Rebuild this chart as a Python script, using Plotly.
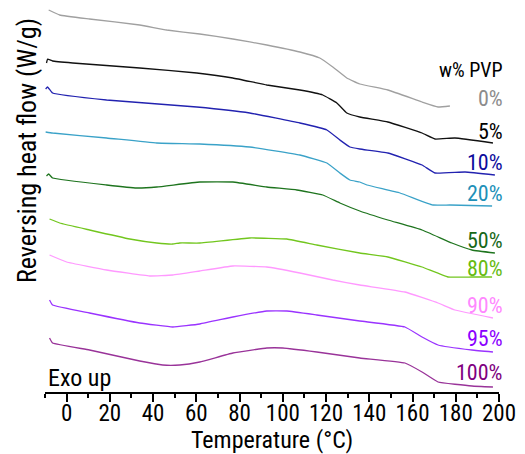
import plotly.graph_objects as go

# Temperature (°C) and reversing heat flow (offset, arbitrary W/g units)
t_0 = [-8.3, -3.2, 10.6, 33.8, 46.3, 61.6, 76.9, 92.6, 107.9, 117.1, 123.1, 129.6, 135.6, 148.6, 164.4, 171.8, 177.3]
h_0 = [3.82, 3.77, 3.73, 3.67, 3.62, 3.58, 3.53, 3.47, 3.40, 3.34, 3.25, 3.14, 3.08, 3.02, 2.90, 2.85, 2.86]

t_5 = [-9.3, -8.8, -6.5, 2.8, 33.8, 60.2, 76.9, 92.6, 107.9, 118.5, 125.0, 129.6, 135.6, 148.6, 164.4, 170.4, 179.6, 197.2]
h_5 = [3.29, 3.33, 3.31, 3.29, 3.24, 3.19, 3.14, 3.07, 3.02, 2.97, 2.89, 2.79, 2.75, 2.70, 2.59, 2.53, 2.54, 2.49]

t_10 = [-9.7, -8.8, -6.5, 18.5, 60.2, 84.7, 107.9, 120.4, 126.4, 131.0, 135.6, 148.6, 164.4, 170.4, 184.3, 198.1]
h_10 = [3.03, 3.05, 2.99, 2.92, 2.85, 2.79, 2.69, 2.62, 2.52, 2.45, 2.43, 2.39, 2.27, 2.19, 2.20, 2.17]

t_20 = [-9.7, -6.5, 18.5, 41.7, 61.6, 84.7, 107.9, 120.4, 126.4, 131.0, 135.6, 138.9, 154.2, 169.4, 177.3, 196.8]
h_20 = [2.60, 2.59, 2.54, 2.49, 2.48, 2.45, 2.37, 2.29, 2.19, 2.12, 2.10, 2.07, 1.99, 1.87, 1.87, 1.86]

t_50 = [-9.3, -8.3, -6.5, 18.5, 32.4, 41.7, 61.6, 76.9, 92.6, 106.5, 118.5, 126.4, 135.6, 148.6, 164.4, 178.2, 187.5, 198.1]
h_50 = [2.16, 2.18, 2.14, 2.07, 2.04, 2.05, 2.10, 2.10, 2.05, 2.02, 1.97, 1.89, 1.81, 1.72, 1.62, 1.49, 1.42, 1.39]

t_80 = [-7.9, -3.2, 10.6, 29.2, 41.7, 49.1, 52.3, 61.6, 84.7, 101.9, 115.7, 135.6, 148.6, 164.4, 176.4, 187.5, 196.8]
h_80 = [1.73, 1.69, 1.62, 1.53, 1.49, 1.48, 1.49, 1.49, 1.54, 1.53, 1.47, 1.39, 1.35, 1.25, 1.15, 1.15, 1.15]

t_90 = [-7.9, 0.0, 18.5, 38.4, 49.1, 61.6, 76.9, 92.6, 107.9, 123.1, 135.6, 156.5, 171.8, 179.6, 197.2]
h_90 = [1.37, 1.30, 1.22, 1.16, 1.17, 1.21, 1.26, 1.25, 1.19, 1.12, 1.07, 1.00, 0.89, 0.82, 0.74]

t_95 = [-7.9, -6.5, 10.6, 33.8, 49.1, 61.6, 76.9, 92.6, 101.9, 115.7, 135.6, 156.5, 164.4, 171.8, 187.5, 197.2]
h_95 = [0.92, 0.87, 0.79, 0.69, 0.65, 0.68, 0.75, 0.81, 0.81, 0.77, 0.71, 0.65, 0.55, 0.47, 0.42, 0.40]

t_100 = [-7.9, -6.5, 10.6, 33.8, 44.4, 52.3, 61.6, 76.9, 92.6, 100.0, 115.7, 135.6, 156.5, 164.4, 171.8, 187.5, 197.2]
h_100 = [0.54, 0.49, 0.42, 0.31, 0.27, 0.27, 0.30, 0.39, 0.44, 0.44, 0.40, 0.34, 0.29, 0.20, 0.10, 0.06, 0.05]

labels = ["0%", "5%", "10%", "20%", "50%", "80%", "90%", "95%", "100%"]
label_y = [2.94, 2.61, 2.30, 1.99, 1.52, 1.24, 0.87, 0.54, 0.20]
line_colors = ["#a0a0a0", "#111111", "#2222b0", "#3aa2c8", "#1e741e", "#72c61e", "#ff99ff", "#9a33ff", "#993399"]
text_colors = ["#8c8c8c", "#000000", "#0c0c9c", "#2090b8", "#176817", "#66bb11", "#ff88ff", "#8b00ff", "#800080"]

series_t = [t_0, t_5, t_10, t_20, t_50, t_80, t_90, t_95, t_100]
series_h = [h_0, h_5, h_10, h_20, h_50, h_80, h_90, h_95, h_100]

FONT = "Roboto Condensed, DejaVu Sans Condensed, sans-serif"

fig = go.Figure()
for t, h, c, lab in zip(series_t, series_h, line_colors, labels):
    fig.add_trace(go.Scatter(x=t, y=h, mode="lines", name=lab,
                             line=dict(color=c, width=1.3, shape="spline", smoothing=0.3),
                             showlegend=False, hoverinfo="skip"))

for lab, y, c in zip(labels, label_y, text_colors):
    fig.add_annotation(x=200, y=y, xref="x", yref="y", text=lab, showarrow=False, xshift=6,
                       xanchor="right", yanchor="middle", font=dict(family=FONT, size=22, color=c))

fig.add_annotation(x=200, y=3.22, xref="x", yref="y", text="w% PVP", showarrow=False, xshift=6,
                   xanchor="right", yanchor="middle", font=dict(family=FONT, size=20, color="#000000"))
fig.add_annotation(x=-9.5, y=0.14, xref="x", yref="y", text="Exo up", showarrow=False,
                   xanchor="left", yanchor="middle", font=dict(family=FONT, size=24, color="#000000"))
fig.add_annotation(x=-0.04, y=0.617, xref="paper", yref="paper", text="Reversing heat flow (W/g)",
                   showarrow=False, textangle=-90, xanchor="center", yanchor="middle",
                   font=dict(family=FONT, size=26, color="#000000"))
fig.add_annotation(x=0.5, y=-0.123, xref="paper", yref="paper", text="Temperature (°C)",
                   showarrow=False, xanchor="center", yanchor="middle",
                   font=dict(family=FONT, size=24, color="#000000"))

fig.update_layout(
    width=525, height=454,
    margin=dict(l=45, r=26, t=0, b=62),
    paper_bgcolor="white", plot_bgcolor="white",
    font=dict(family=FONT, size=23, color="#000000"),
    xaxis=dict(range=[-10, 200], tick0=0, dtick=20, ticks="outside", ticklen=8, tickwidth=1.5,
               tickcolor="#000000", showline=True, linecolor="#000000", linewidth=1.8,
               showgrid=False, zeroline=False, tickfont=dict(family=FONT, size=23),
               ticklabelstandoff=-9,
               minor=dict(dtick=10, tick0=0, ticks="outside", ticklen=4, tickwidth=1.5, tickcolor="#000000")),
    yaxis=dict(range=[0, 3.92], visible=False, showgrid=False, zeroline=False),
)

fig.write_html("out.html")
